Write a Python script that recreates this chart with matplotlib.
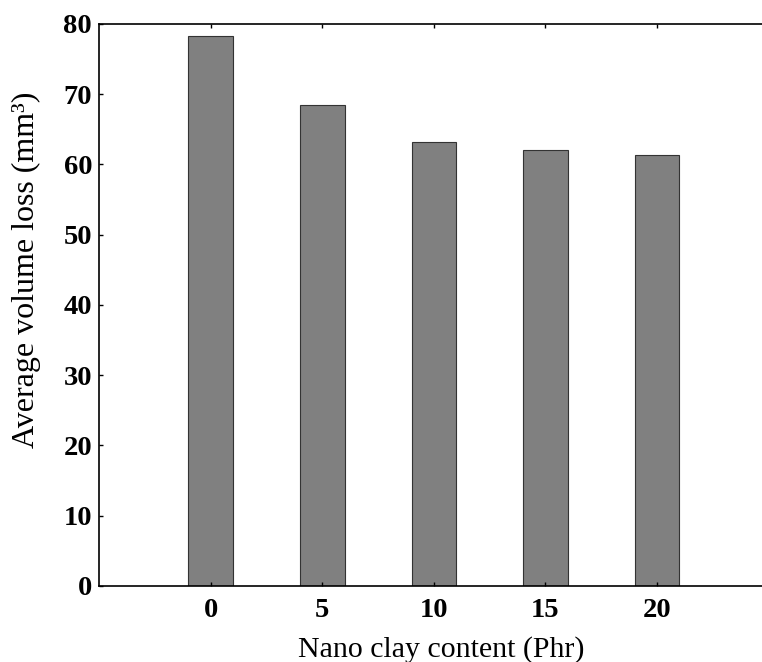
import matplotlib.pyplot as plt

clay = ['0', '5', '10', '15', '20']
volume_loss = [78.2, 68.5, 63.2, 62.1, 61.4]

plt.rcParams['font.family'] = ['Liberation Serif', 'DejaVu Serif']

fig = plt.figure(figsize=(7.62, 6.62), dpi=100)
ax = fig.add_axes([0.13, 0.115, 0.87, 0.849])

pos = range(1, len(clay) + 1)
ax.bar(pos, volume_loss, width=0.4, color='#808080', edgecolor='#333333', linewidth=0.8)

ax.set_xlim(0, 5.94)
ax.set_ylim(0, 80)
ax.set_xticks(list(pos))
ax.set_xticklabels(clay)
ax.set_yticks(range(0, 81, 10))

for s in ['left', 'bottom', 'top']:
    ax.spines[s].set_linewidth(1.2)
ax.spines['right'].set_visible(False)

ax.tick_params(axis='both', direction='in', length=3, width=1, labelsize=20.5)
ax.tick_params(axis='x', top=True, pad=9)
ax.tick_params(axis='y', pad=5)
for lab in ax.get_xticklabels() + ax.get_yticklabels():
    lab.set_fontweight('bold')

ax.set_xlabel('Nano clay content (Phr)', fontsize=21.5)
ax.xaxis.set_label_coords(0.516, -0.089)
ax.set_ylabel('Average volume loss (mm³)', fontsize=23)
ax.yaxis.set_label_coords(-0.087, 0.562)

fig.savefig('out.png', dpi=100)
